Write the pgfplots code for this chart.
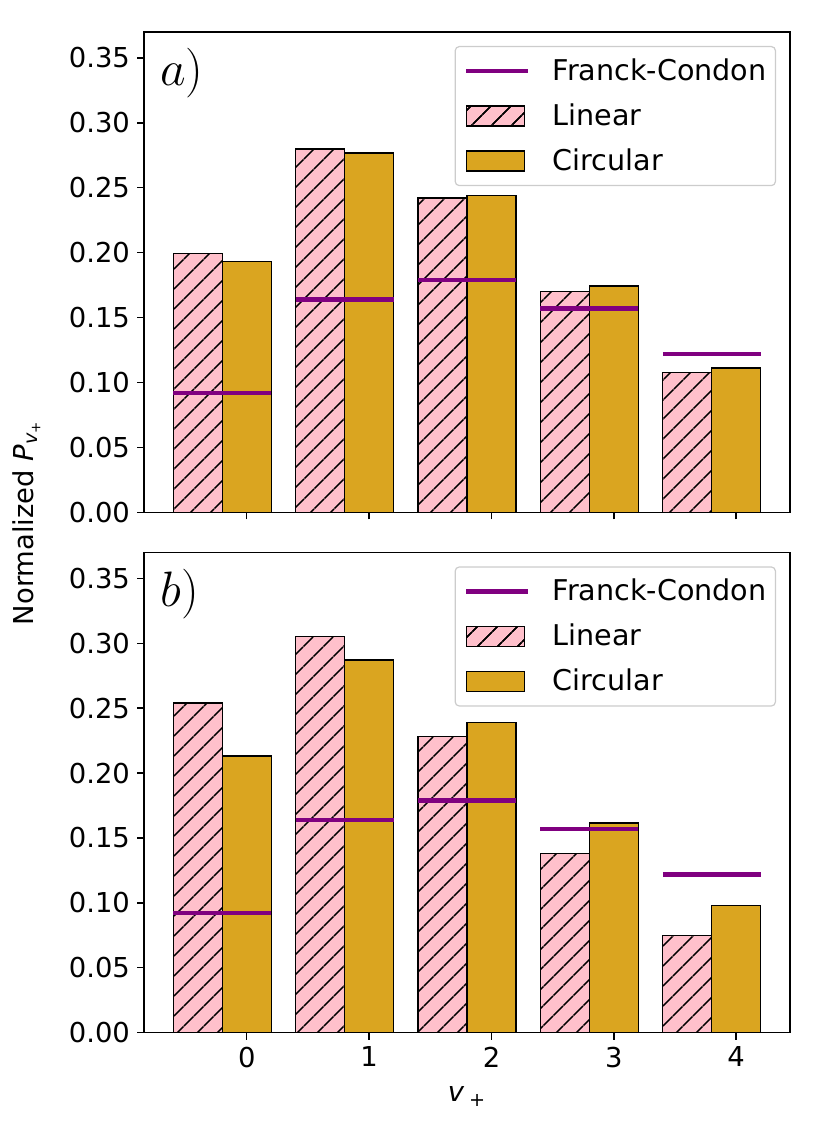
\documentclass[border=0pt]{standalone}
\usepackage{fontspec}
\setmainfont{DejaVu Sans}
\usepackage{pgfplots}
\pgfplotsset{compat=1.18}
\usetikzlibrary{patterns.meta}
\definecolor{mpink}{HTML}{FFC0CB}
\definecolor{mgold}{HTML}{DAA520}
\definecolor{mpurple}{HTML}{800080}
\newcommand{\fs}{\fontsize{13.7}{16}\selectfont}
\newcommand{\lfs}{\fontsize{14.3}{16}\selectfont}
\pgfplotsset{
  panel/.style={
    scale only axis, width=323pt, height=240.15pt,
    xmin=-0.84, xmax=4.44, ymin=0, ymax=0.37,
    xtick={0,1,2,3,4},
    ytick={0,0.05,0.1,0.15,0.2,0.25,0.3,0.35},
    tick align=outside, tick pos=left, major tick length=3.5pt,
    major tick style={black, line width=0.7pt},
    axis line style={line width=0.7pt},
    yticklabel style={/pgf/number format/.cd, fixed, fixed zerofill, precision=2},
    /pgf/number format/assume math mode=true,
    ticklabel style={font=\fs},
    legend cell align=left,
    legend style={at={(1,1)}, anchor=north east, xshift=-7pt, yshift=-7pt,
      draw=black!20, line width=0.6pt, rounded corners=2pt,
      fill=white,
      font=\lfs, inner xsep=4.5pt, inner ysep=6pt, row sep=10.2pt,
      nodes={inner sep=0pt},
      /tikz/every odd column/.append style={column sep=11pt}},
  },
  linbar/.style={ybar, bar width=0.4, bar shift=-0.4, draw=black, line width=0.7pt,
    fill=mpink, postaction={pattern={Lines[angle=45,distance=6.9pt,line width=0.85pt]}, pattern color=black},
    legend image code/.code={\draw[sharp corners, draw=black, line width=0.8pt, fill=mpink,
      postaction={pattern={Lines[angle=45,distance=6.9pt,line width=0.85pt]}, pattern color=black}]
      (0pt,-5pt) rectangle (29pt,5pt);}},
  cirbar/.style={ybar, bar width=0.4, bar shift=0, draw=black, line width=0.7pt,
    fill=mgold,
    legend image code/.code={\draw[sharp corners, draw=black, line width=0.8pt, fill=mgold]
      (0pt,-5pt) rectangle (29pt,5pt);}},
  fcline/.style={mpurple, line width=2.2pt, no marks, unbounded coords=jump,
    legend image code/.code={\draw[sharp corners, mpurple, line width=2.2pt] (0pt,0pt) -- (31pt,0pt);}},
}
\begin{document}
\begin{tikzpicture}
\path[use as bounding box] (0,0) rectangle (411pt,572pt);

% ---------- panel a ----------
\begin{axis}[panel, at={(72pt,315.85pt)}, anchor=south west, xticklabels={}]
  \addlegendimage{fcline}
  \addlegendentry{Franck-Condon}
  \addplot[linbar] coordinates {(0,0.1994) (1,0.2799) (2,0.242) (3,0.170) (4,0.1075)};
  \addlegendentry{Linear}
  \addplot[cirbar] coordinates {(0,0.1932) (1,0.2768) (2,0.244) (3,0.1742) (4,0.1113)};
  \addlegendentry{Circular}
  \addplot[fcline, forget plot] coordinates {
    (-0.6,0.092) (0.2,0.092) (0.2,nan)
    (0.4,0.164) (1.2,0.164) (1.2,nan)
    (1.4,0.179) (2.2,0.179) (2.2,nan)
    (2.4,0.157) (3.2,0.157) (3.2,nan)
    (3.4,0.122) (4.2,0.122)};
  \node[anchor=north west, inner sep=0pt, xshift=8pt, yshift=-8pt,
        font=\fontsize{26}{30}\selectfont] at (rel axis cs:0,1) {$a)$};
\end{axis}

% ---------- panel b ----------
\begin{axis}[panel, at={(72pt,55.65pt)}, anchor=south west]
  \addlegendimage{fcline}
  \addlegendentry{Franck-Condon}
  \addplot[linbar] coordinates {(0,0.254) (1,0.3054) (2,0.228) (3,0.138) (4,0.075)};
  \addlegendentry{Linear}
  \addplot[cirbar] coordinates {(0,0.213) (1,0.287) (2,0.239) (3,0.1615) (4,0.098)};
  \addlegendentry{Circular}
  \addplot[fcline, forget plot] coordinates {
    (-0.6,0.092) (0.2,0.092) (0.2,nan)
    (0.4,0.164) (1.2,0.164) (1.2,nan)
    (1.4,0.179) (2.2,0.179) (2.2,nan)
    (2.4,0.157) (3.2,0.157) (3.2,nan)
    (3.4,0.122) (4.2,0.122)};
  \node[anchor=north west, inner sep=0pt, xshift=8pt, yshift=-8pt,
        font=\fontsize{26}{30}\selectfont] at (rel axis cs:0,1) {$b)$};
\end{axis}

\node[rotate=90, anchor=base, font=\fs] at (16.5pt,310.75pt)
  {Normalized \textit{P}\textsubscript{\textit{v}\textsubscript{+}}};
\node[anchor=base, font=\fs] at (233.5pt,21pt) {\textit{v}\,\textsubscript{+}};
\end{tikzpicture}
\end{document}
